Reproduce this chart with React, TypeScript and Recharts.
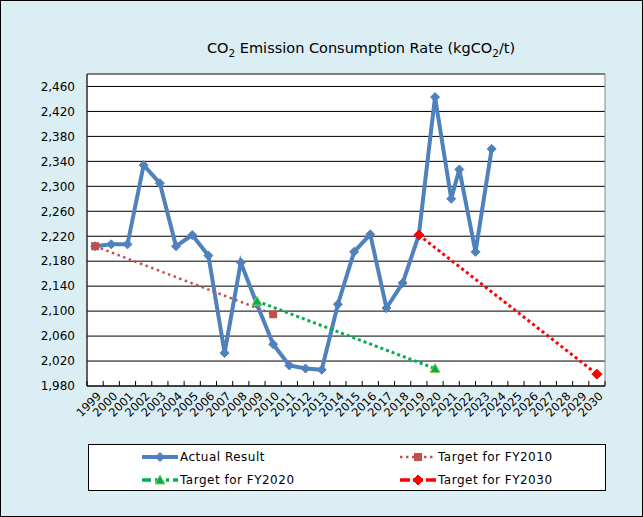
import React from 'react';
import { LineChart, Line, XAxis, YAxis, CartesianGrid, Legend, ReferenceArea } from 'recharts';

const years = [
  1999, 2000, 2001, 2002, 2003, 2004, 2005, 2006, 2007, 2008, 2009, 2010, 2011, 2012, 2013, 2014,
  2015, 2016, 2017, 2018, 2019, 2020, 2021, 2022, 2023, 2024, 2025, 2026, 2027, 2028, 2029, 2030,
];

// x positions of the actual-result points
const actualX = [
  1999, 2000, 2001, 2002, 2003, 2004, 2005, 2006, 2007, 2008, 2009, 2010, 2011, 2012, 2013, 2014,
  2015, 2016, 2017, 2018, 2019, 2020, 2021, 2021.5, 2022.5, 2023.5,
];
const actualValues = [
  2204, 2207, 2207, 2334, 2305, 2204, 2222, 2189, 2033, 2178, 2111, 2047, 2013, 2008, 2006, 2111,
  2195, 2223, 2105, 2145, 2222, 2443, 2280, 2327, 2195, 2360,
];

const target2010X = [1999, 2010];
const target2010Values = [2204, 2095];
const target2020X = [2009, 2020];
const target2020Values = [2116, 2008];
const target2030X = [2019, 2030];
const target2030Values = [2222, 1999];

const yTicks = [1980, 2020, 2060, 2100, 2140, 2180, 2220, 2260, 2300, 2340, 2380, 2420, 2460];
const yDomain = [1980, 2480];

const seriesNames = ['Actual Result', 'Target for FY2010', 'Target for FY2020', 'Target for FY2030'];

const FONT = '"DejaVu Sans", Verdana, sans-serif';
const BLUE = '#4F81BD';
const BROWN = '#C0504D';
const GREEN = '#00B050';
const RED = '#FF0000';

const zip = (xs: number[], ys: number[]) => xs.map((x, i) => ({ x, y: ys[i] }));
const actualData = zip(actualX, actualValues);
const t2010Data = zip(target2010X, target2010Values);
const t2020Data = zip(target2020X, target2020Values);
const t2030Data = zip(target2030X, target2030Values);

const xDomain = [years[0] - 0.5, years[years.length - 1] + 0.5];
const xTicks: number[] = [];
years.forEach((y) => {
  xTicks.push(y - 0.5);
  xTicks.push(y);
});
xTicks.push(years[years.length - 1] + 0.5);

const XTick = (props: any) => {
  const { x, y, payload } = props;
  const v = payload.value;
  if (!Number.isInteger(v)) {
    return <line x1={x} x2={x} y1={y} y2={y - 5} stroke="#000" strokeWidth={1} />;
  }
  const ax = x + 4;
  const ay = y + 8;
  return (
    <text
      x={ax}
      y={ay}
      dy={4}
      textAnchor="end"
      transform={`rotate(-45, ${ax}, ${ay})`}
      fontSize={11.5}
      fontFamily={FONT}
      fill="#000"
    >
      {v}
    </text>
  );
};

const diamond = (cx: number, cy: number, r: number, fill: string, key: string) => (
  <polygon key={key} points={`${cx},${cy - r} ${cx + r},${cy} ${cx},${cy + r} ${cx - r},${cy}`} fill={fill} stroke={fill} strokeWidth={1} />
);

const ActualDot = (props: any) => {
  const { cx, cy, index } = props;
  if (cx == null || cy == null) return <g key={`a-${index}`} />;
  return diamond(cx, cy, 4.5, BLUE, `a-${index}`);
};
const SquareDot = (props: any) => {
  const { cx, cy, index } = props;
  if (cx == null || cy == null) return <g key={`s-${index}`} />;
  return <rect key={`s-${index}`} x={cx - 4} y={cy - 4} width={8} height={8} fill={BROWN} />;
};
const TriangleDot = (props: any) => {
  const { cx, cy, index } = props;
  if (cx == null || cy == null) return <g key={`t-${index}`} />;
  return (
    <polygon
      key={`t-${index}`}
      points={`${cx},${cy - 5} ${cx + 5},${cy + 4} ${cx - 5},${cy + 4}`}
      fill={GREEN}
      stroke="#92D050"
      strokeWidth={1}
    />
  );
};
const RedDot = (props: any) => {
  const { cx, cy, index } = props;
  if (cx == null || cy == null) return <g key={`r-${index}`} />;
  return diamond(cx, cy, 5, RED, `r-${index}`);
};

const LegendIcon = ({ i }: { i: number }) => {
  if (i === 0)
    return (
      <svg width={38} height={12}>
        <line x1={1} x2={37} y1={6} y2={6} stroke={BLUE} strokeWidth={4} />
        {diamond(19, 6, 4.5, BLUE, 'l0')}
      </svg>
    );
  if (i === 1)
    return (
      <svg width={38} height={12}>
        <line x1={1} x2={37} y1={6} y2={6} stroke={BROWN} strokeWidth={2.5} strokeDasharray="2.5 3.5" />
        <rect x={15} y={2} width={8} height={8} fill={BROWN} />
      </svg>
    );
  if (i === 2)
    return (
      <svg width={38} height={12}>
        <line x1={1} x2={37} y1={6} y2={6} stroke={GREEN} strokeWidth={3.5} strokeDasharray="9 4 3 8 3 4" />
        <polygon points="19,1 24,10 14,10" fill={GREEN} stroke="#92D050" strokeWidth={1} />
      </svg>
    );
  return (
    <svg width={38} height={12}>
      <line x1={1} x2={37} y1={6} y2={6} stroke={RED} strokeWidth={3.5} strokeDasharray="10 3" />
      {diamond(19, 6, 5, RED, 'l3')}
    </svg>
  );
};

const renderLegend = () => (
  <div
    style={{
      position: 'relative',
      width: 518,
      height: 47,
      boxSizing: 'border-box',
      border: '1px solid #000',
      background: '#fff',
      fontFamily: FONT,
      fontSize: 12,
      color: '#000',
    }}
  >
    {seriesNames.map((name, i) => {
      const col = i % 2;
      const row = Math.floor(i / 2);
      const iconLeft = col === 0 ? 52 : 310;
      const textLeft = col === 0 ? 91 : 349;
      const cy = row === 0 ? 12 : 35;
      return (
        <React.Fragment key={name}>
          <div style={{ position: 'absolute', left: iconLeft, top: cy - 6, height: 12, lineHeight: 0 }}>
            <LegendIcon i={i} />
          </div>
          <div
            style={{
              position: 'absolute',
              left: textLeft,
              top: cy - 8,
              height: 16,
              lineHeight: '16px',
              whiteSpace: 'nowrap',
              letterSpacing: 0.5,
            }}
          >
            {name}
          </div>
        </React.Fragment>
      );
    })}
  </div>
);

export default function App() {
  return (
    <div
      style={{
        position: 'fixed',
        left: 0,
        top: 0,
        width: 643,
        height: 517,
        background: '#DBEEF4',
        outline: '1px solid #000',
        outlineOffset: -1,
        fontFamily: FONT,
      }}
    >
      <div
        style={{
          position: 'absolute',
          left: 207,
          top: 39,
          lineHeight: '18px',
          fontSize: 14.5,
          whiteSpace: 'nowrap',
          color: '#000',
          zIndex: 2,
        }}
      >
        CO<sub style={{ fontSize: '0.72em', lineHeight: 0 }}>2</sub> Emission Consumption Rate (kgCO
        <sub style={{ fontSize: '0.72em', lineHeight: 0 }}>2</sub>/t)
      </div>
      <LineChart width={643} height={517} margin={{ top: 74, right: 38, left: 0, bottom: 81 }}>
        <CartesianGrid fill="#fff" stroke="#000" vertical={false} strokeWidth={1} />
        <ReferenceArea
          x1={xDomain[0]}
          x2={xDomain[1]}
          y1={yDomain[0]}
          y2={yDomain[1]}
          fill="none"
          stroke="#868686"
          strokeWidth={1}
          ifOverflow="visible"
        />
        <XAxis
          dataKey="x"
          type="number"
          domain={xDomain}
          ticks={xTicks}
          interval={0}
          allowDataOverflow
          height={50}
          tickLine={false}
          tickSize={0}
          tickMargin={0}
          tick={<XTick />}
          axisLine={{ stroke: '#000' }}
        />
        <YAxis
          type="number"
          domain={yDomain}
          ticks={yTicks}
          interval={0}
          allowDataOverflow
          width={87}
          tickLine={false}
          tickSize={0}
          tickMargin={12}
          axisLine={{ stroke: '#000' }}
          tick={{ fill: '#000', fontSize: 12, fontFamily: FONT }}
          tickFormatter={(v: number) => v.toLocaleString('en-US')}
        />
        <Legend
          layout="vertical"
          align="center"
          verticalAlign="middle"
          wrapperStyle={{ top: 444, left: 88, width: 518, height: 47, bottom: 'auto', right: 'auto' }}
          content={renderLegend}
        />
        <Line
          name={seriesNames[0]}
          data={actualData}
          dataKey="y"
          stroke={BLUE}
          strokeWidth={4}
          dot={ActualDot}
          activeDot={false}
          isAnimationActive={false}
        />
        <Line
          name={seriesNames[1]}
          data={t2010Data}
          dataKey="y"
          stroke={BROWN}
          strokeWidth={2.5}
          strokeDasharray="2.5 3.5"
          dot={SquareDot}
          activeDot={false}
          isAnimationActive={false}
        />
        <Line
          name={seriesNames[2]}
          data={t2020Data}
          dataKey="y"
          stroke={GREEN}
          strokeWidth={3}
          strokeDasharray="3 3"
          dot={TriangleDot}
          activeDot={false}
          isAnimationActive={false}
        />
        <Line
          name={seriesNames[3]}
          data={t2030Data}
          dataKey="y"
          stroke={RED}
          strokeWidth={3}
          strokeDasharray="3 3"
          dot={RedDot}
          activeDot={false}
          isAnimationActive={false}
        />
      </LineChart>
    </div>
  );
}
